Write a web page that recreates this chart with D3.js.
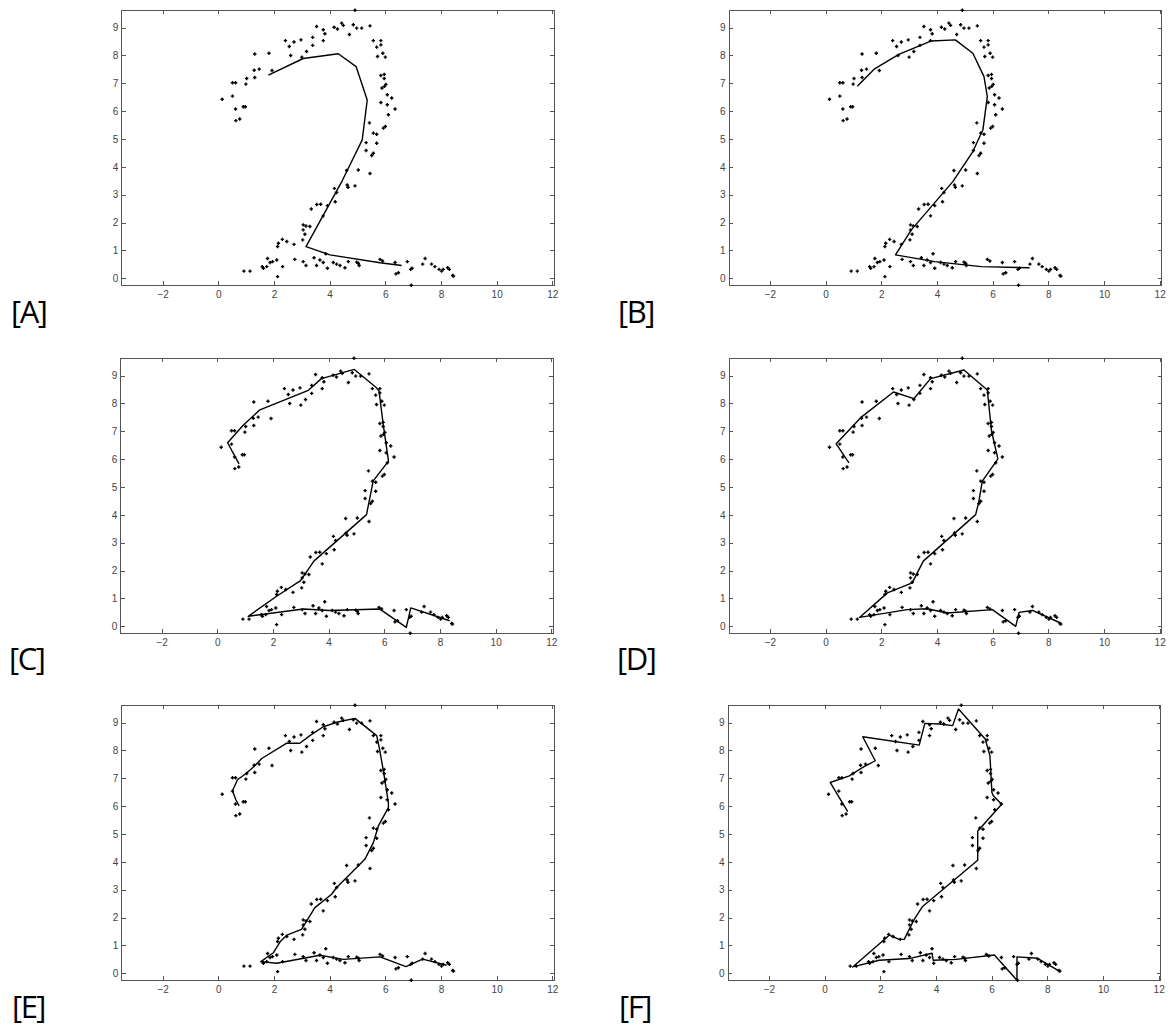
<!DOCTYPE html>
<html>
<head>
<meta charset="utf-8">
<script src="https://cdn.jsdelivr.net/npm/d3@7"></script>
<style>
  html, body { margin: 0; padding: 0; background: #fff; }
  svg { display: block; }
  .tick text { font-family: "Liberation Sans", Arial, sans-serif; font-size: 10px; fill: #444; }
  .panel-label { font-family: "Open Sans", sans-serif; font-size: 31px; letter-spacing: -1.5px; fill: #000; }
</style>
</head>
<body>
<svg id="chart" width="1169" height="1032"></svg>
<script>
// Axis ticks
const xTicks = [-2, 0, 2, 4, 6, 8, 10, 12];
const yTicks = [0, 1, 2, 3, 4, 5, 6, 7, 8, 9];
const xDomain = [-3.47, 12.07];
const yDomain = [-0.25, 9.62];

// Sample points of the handwritten "2" (shared by every panel)
const points = [
  [4.91,9.62],[3.53,9.04],[3.77,8.92],[3.83,8.78],[3.77,8.53],[4.16,9.01],[4.28,8.95],[4.43,9.16],
  [4.49,9.08],[4.71,8.75],[4.85,9.10],[4.97,8.98],[5.15,8.98],[5.45,9.06],[3.39,8.65],[3.39,8.36],
  [2.97,8.56],[2.72,8.48],[2.41,8.53],[2.55,8.32],[2.60,8.00],[3.17,8.14],[3.00,7.94],[1.82,8.08],
  [1.31,8.05],[1.93,7.46],[1.29,7.47],[1.47,7.51],[1.31,7.21],[1.02,7.17],[0.99,6.97],[0.51,7.02],
  [0.62,7.02],[0.51,6.54],[0.14,6.43],[0.62,6.08],[0.90,6.16],[0.97,6.16],[0.63,5.66],[0.77,5.72],
  [5.57,8.53],[5.84,8.53],[5.69,8.30],[5.84,8.38],[5.91,8.08],[5.72,7.96],[6.00,7.94],[5.84,7.28],
  [5.96,7.32],[5.96,7.17],[6.02,6.96],[5.97,6.89],[5.88,6.83],[6.07,6.59],[6.23,6.47],[5.84,6.31],
  [6.07,6.23],[6.35,6.08],[6.11,5.87],[6.00,5.45],[5.93,5.39],[5.43,5.58],[5.57,5.21],[5.69,5.17],
  [5.31,4.87],[5.69,4.85],[5.31,4.59],[5.57,4.49],[5.51,4.41],[5.03,3.89],[4.61,3.87],[5.45,3.76],
  [4.63,3.35],[4.66,3.27],[4.91,3.32],[4.17,3.23],[4.25,3.08],[4.20,2.75],[3.92,2.61],[3.54,2.65],
  [3.68,2.66],[3.34,2.49],[3.77,2.24],[3.05,1.92],[3.15,1.88],[3.29,1.86],[3.05,1.74],[3.11,1.58],
  [3.03,1.38],[2.30,1.40],[2.46,1.32],[2.16,1.26],[2.13,1.14],[2.72,1.22],
  [0.92,0.26],[1.14,0.26],[1.58,0.42],[1.62,0.36],[1.74,0.42],[1.77,0.71],[1.86,0.57],[1.95,0.60],
  [2.10,0.66],[2.13,0.06],[2.31,0.42],[2.75,0.68],[3.05,0.60],[3.15,0.46],[3.44,0.74],[3.53,0.46],
  [3.65,0.66],[3.77,0.57],[3.92,0.36],[3.86,0.88],[4.13,0.57],[4.25,0.51],[4.37,0.46],[4.55,0.38],
  [4.67,0.60],[5.03,0.54],[5.06,0.46],[4.97,0.58],[5.81,0.68],[5.90,0.62],[6.35,0.57],[6.38,0.16],
  [6.47,0.20],[6.79,0.60],[6.91,0.32],[6.96,0.36],[6.93,-0.25],[7.34,0.51],[7.43,0.71],[7.66,0.51],
  [7.78,0.42],[7.93,0.32],[8.02,0.26],[8.08,0.32],[8.24,0.38],[8.30,0.32],[8.42,0.10],[8.45,0.08]
];

// Fitted curves, one per panel
const lineA = [[1.80,7.29],[3.05,7.89],[4.31,8.06],[4.95,7.60],[5.35,6.40],[5.17,4.97],[4.45,3.50],
  [3.15,1.14],[4.01,0.84],[5.81,0.56],[6.59,0.46]];
const lineB = [[1.14,6.89],[1.76,7.52],[2.63,8.04],[3.80,8.52],[4.66,8.56],[5.29,8.08],[5.69,7.24],
  [5.81,6.52],[5.65,5.33],[5.29,4.55],[4.57,3.47],[3.08,1.74],[2.51,0.84],[3.92,0.60],[5.59,0.42],[7.33,0.38]];
const lineC = [[0.78,5.83],[0.37,6.59],[0.93,7.22],[1.53,7.77],[3.27,8.47],[3.74,8.89],[4.92,9.22],
  [5.72,8.56],[5.81,8.44],[5.96,7.25],[6.15,5.93],[5.60,5.22],[5.36,4.01],[3.47,2.34],[2.99,1.64],
  [2.13,1.08],[1.11,0.36],[3.09,0.62],[4.04,0.57],[5.84,0.62],[6.79,-0.04],[6.95,0.66],[8.35,0.20]];
const lineD = [[0.84,5.87],[0.38,6.55],[1.26,7.49],[2.44,8.41],[3.17,8.17],[3.77,8.89],[4.97,9.20],
  [5.81,8.48],[5.96,7.01],[6.19,6.01],[5.63,5.21],[5.50,4.45],[5.39,4.01],[3.51,2.34],[3.11,1.56],
  [2.22,1.20],[1.22,0.32],[2.93,0.60],[3.65,0.63],[4.37,0.48],[5.99,0.60],[6.83,0.00],[6.95,0.50],
  [7.43,0.57],[8.44,0.12]];
const lineE = [[0.75,6.01],[0.63,6.23],[0.51,6.55],[0.69,6.95],[1.02,7.19],[1.29,7.43],[1.56,7.71],
  [2.46,8.26],[2.93,8.26],[3.29,8.53],[3.77,8.85],[4.25,9.01],[4.91,9.15],[5.69,8.53],[5.78,8.11],
  [5.93,7.27],[6.11,6.13],[6.11,5.95],[5.75,5.29],[5.57,4.69],[5.27,4.10],[4.97,3.80],[4.25,3.08],
  [4.07,2.84],[3.47,2.36],[2.99,1.58],[2.46,1.37],[2.22,1.13],[1.98,0.74],[1.53,0.42],[2.10,0.36],
  [3.65,0.65],[4.49,0.50],[5.81,0.59],[6.74,0.24],[7.34,0.51],[8.20,0.29]];
const lineF = [[0.83,5.80],[0.20,6.85],[0.89,7.09],[1.37,7.39],[1.82,7.63],[1.37,8.49],[3.40,8.19],
  [3.60,8.97],[4.12,8.95],[4.60,8.89],[4.81,9.49],[5.77,8.41],[5.94,7.81],[6.01,6.49],[6.06,6.37],
  [6.36,6.07],[5.56,5.17],[5.50,5.11],[5.50,4.06],[3.52,2.40],[3.22,1.94],[2.86,1.22],[2.68,1.22],
  [2.32,1.37],[1.01,0.23],[1.96,0.47],[3.04,0.53],[3.86,0.72],[3.90,0.47],[4.72,0.50],[6.10,0.66],
  [6.91,-0.25],[6.91,0.59],[7.65,0.54],[8.43,0.08]];

const panelNames = ["[A]", "[B]", "[C]", "[D]", "[E]", "[F]"];
const panelLines = [lineA, lineB, lineC, lineD, lineE, lineF];

// Layout of the six axes boxes and their captions
const boxW = 432.6, boxH = 275;
const boxOrigins = [[121.7, 10.3], [729, 10.3], [120.7, 358.3], [729, 358.3], [121.7, 705.3], [728, 705.3]];
const labelPos = [[11, 323], [618, 323], [9, 670], [617, 670], [12, 1018], [619, 1018]];

const svg = d3.select("#chart");
const axisColor = "#555";

const x = d3.scaleLinear().domain(xDomain).range([0, boxW]);
const y = d3.scaleLinear().domain(yDomain).range([boxH, 0]);
const line = d3.line().x(d => x(d[0])).y(d => y(d[1]));

function styleAxis(g) {
  g.select(".domain").remove();
  g.selectAll(".tick line").attr("stroke", axisColor).attr("shape-rendering", "crispEdges");
}

panelNames.forEach((name, i) => {
  const [ox, oy] = boxOrigins[i];
  const g = svg.append("g").attr("transform", `translate(${ox},${oy})`);

  // inward-pointing ticks on all four sides
  g.append("g").attr("transform", `translate(0,${boxH})`)
    .call(d3.axisBottom(x).tickValues(xTicks).tickSize(-4).tickPadding(6).tickFormat(d3.format("d")))
    .call(styleAxis);
  g.append("g")
    .call(d3.axisTop(x).tickValues(xTicks).tickSize(-4).tickFormat(""))
    .call(styleAxis);
  g.append("g")
    .call(d3.axisLeft(y).tickValues(yTicks).tickSize(-4).tickPadding(3.5).tickFormat(d3.format("d")))
    .call(styleAxis);
  g.append("g").attr("transform", `translate(${boxW},0)`)
    .call(d3.axisRight(y).tickValues(yTicks).tickSize(-4).tickFormat(""))
    .call(styleAxis);

  g.selectAll(".tick text").attr("fill", "#444").attr("font-family", "Liberation Sans, Arial, sans-serif").attr("font-size", 10);

  // axes box
  g.append("rect")
    .attr("x", 0).attr("y", 0).attr("width", boxW).attr("height", boxH)
    .attr("fill", "none").attr("stroke", axisColor).attr("stroke-width", 1)
    .attr("shape-rendering", "crispEdges");

  // fitted curve
  g.append("path")
    .datum(panelLines[i])
    .attr("d", line)
    .attr("fill", "none")
    .attr("stroke", "#000")
    .attr("stroke-width", 1.4)
    .attr("stroke-linejoin", "round");

  // sample points as small plus markers
  g.append("g").selectAll("path.pt")
    .data(points)
    .join("path")
    .attr("class", "pt")
    .attr("transform", d => `translate(${x(d[0])},${y(d[1])})`)
    .attr("d", "M-1.7,0H1.7M0,-1.7V1.7")
    .attr("stroke", "#000")
    .attr("stroke-width", 1.4);

  svg.append("text")
    .attr("class", "panel-label")
    .attr("x", labelPos[i][0])
    .attr("y", labelPos[i][1])
    .text(name);
});
</script>
</body>
</html>
